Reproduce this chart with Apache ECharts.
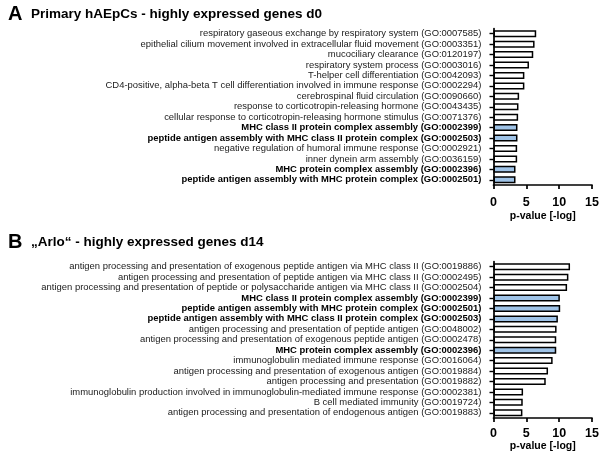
<!DOCTYPE html>
<html>
<head>
<meta charset="utf-8">
<script src="https://cdn.jsdelivr.net/npm/echarts@6/dist/echarts.min.js"></script>
<style>html,body{margin:0;padding:0;background:#fff}#c{width:602px;height:453px}</style>
</head>
<body>
<div id="c"></div>
<script>
var catsA = [
  "respiratory gaseous exchange by respiratory system (GO:0007585)",
  "epithelial cilium movement involved in extracellular fluid movement (GO:0003351)",
  "mucociliary clearance (GO:0120197)",
  "respiratory system process (GO:0003016)",
  "T-helper cell differentiation (GO:0042093)",
  "CD4-positive, alpha-beta T cell differentiation involved in immune response (GO:0002294)",
  "cerebrospinal fluid circulation (GO:0090660)",
  "response to corticotropin-releasing hormone (GO:0043435)",
  "cellular response to corticotropin-releasing hormone stimulus (GO:0071376)",
  "MHC class II protein complex assembly (GO:0002399)",
  "peptide antigen assembly with MHC class II protein complex (GO:0002503)",
  "negative regulation of humoral immune response (GO:0002921)",
  "inner dynein arm assembly (GO:0036159)",
  "MHC protein complex assembly (GO:0002396)",
  "peptide antigen assembly with MHC protein complex (GO:0002501)"
];
var valuesA = [6.5, 6.25, 6.05, 5.4, 4.7, 4.7, 3.9, 3.8, 3.75, 3.65, 3.65, 3.6, 3.6, 3.35, 3.35];
var highlightA = [0,0,0,0,0,0,0,0,0,1,1,0,0,1,1];

var catsB = [
  "antigen processing and presentation of exogenous peptide antigen via MHC class II (GO:0019886)",
  "antigen processing and presentation of peptide antigen via MHC class II (GO:0002495)",
  "antigen processing and presentation of peptide or polysaccharide antigen via MHC class II (GO:0002504)",
  "MHC class II protein complex assembly (GO:0002399)",
  "peptide antigen assembly with MHC protein complex (GO:0002501)",
  "peptide antigen assembly with MHC class II protein complex (GO:0002503)",
  "antigen processing and presentation of peptide antigen (GO:0048002)",
  "antigen processing and presentation of exogenous peptide antigen (GO:0002478)",
  "MHC protein complex assembly (GO:0002396)",
  "immunoglobulin mediated immune response (GO:0016064)",
  "antigen processing and presentation of exogenous antigen (GO:0019884)",
  "antigen processing and presentation (GO:0019882)",
  "immunoglobulin production involved in immunoglobulin-mediated immune response (GO:0002381)",
  "B cell mediated immunity (GO:0019724)",
  "antigen processing and presentation of endogenous antigen (GO:0019883)"
];
var valuesB = [11.65, 11.4, 11.2, 10.1, 10.15, 9.8, 9.6, 9.55, 9.55, 9.0, 8.3, 7.95, 4.5, 4.45, 4.4];
var highlightB = [0,0,0,1,1,1,0,0,1,0,0,0,0,0,0];

var xTicks = [0, 5, 10, 15];
var titleA = "Primary hAEpCs - highly expressed genes d0";
var titleB = "\u201EArlo\u201C - highly expressed genes d14";
var xName = "p-value [-log]";

var FONT = "Liberation Sans, Arial, Helvetica, sans-serif";
var BLUE = "#9fc3e7";

function catData(cats, hl) {
  return cats.map(function (c, i) {
    return hl[i] ? { value: c, textStyle: { fontWeight: "bold", color: "#000" } } : c;
  });
}
function barData(vals, hl) {
  return vals.map(function (v, i) {
    return { value: v, itemStyle: { color: hl[i] ? BLUE : "#fff" } };
  });
}
function xAxisCfg(gi, margin, gap) {
  return {
    gridIndex: gi, type: "value", min: xTicks[0], max: xTicks[xTicks.length - 1], interval: 5,
    axisLine: { show: true, lineStyle: { color: "#000", width: 1.7 } },
    axisTick: { show: true, length: 4, lineStyle: { color: "#000", width: 1.7 } },
    axisLabel: { color: "#000", fontFamily: FONT, fontWeight: "bold", fontSize: 12.5, margin: margin },
    splitLine: { show: false },
    name: xName, nameLocation: "middle", nameGap: gap,
    nameTextStyle: { color: "#000", fontFamily: FONT, fontWeight: "bold", fontSize: 10.5 }
  };
}
function yAxisCfg(gi, cats, hl) {
  return {
    gridIndex: gi, type: "category", inverse: true, data: catData(cats, hl),
    axisLine: { show: true, lineStyle: { color: "#000", width: 1.7 } },
    axisTick: { show: true, alignWithLabel: true, length: 4, lineStyle: { color: "#000", width: 1.4 } },
    axisLabel: { color: "#1a1a1a", fontFamily: FONT, fontSize: 9.45, margin: 12, interval: 0 }
  };
}
function seriesCfg(gi, vals, hl) {
  return {
    type: "bar", xAxisIndex: gi, yAxisIndex: gi, data: barData(vals, hl),
    barWidth: 7, itemStyle: { borderColor: "#000", borderWidth: 1.5 },
    animation: false, silent: true
  };
}

var chart = echarts.init(document.getElementById("c"), null, { renderer: "canvas" });
chart.setOption({
  backgroundColor: "#fff",
  animation: false,
  title: [
    { text: "{l|A}{t|" + titleA + "}", left: 3, top: -1,
      textStyle: { rich: {
        l: { fontFamily: FONT, fontWeight: "bold", fontSize: 20, color: "#000", width: 23 },
        t: { fontFamily: FONT, fontWeight: "bold", fontSize: 13.5, color: "#000" } } } },
    { text: "{l|B}{t|" + titleB + "}", left: 3, top: 227,
      textStyle: { rich: {
        l: { fontFamily: FONT, fontWeight: "bold", fontSize: 20, color: "#000", width: 23 },
        t: { fontFamily: FONT, fontWeight: "bold", fontSize: 13.5, color: "#000" } } } }
  ],
  grid: [
    { left: 493.5, right: 7.5, top: 28.5, height: 156.5 },
    { left: 493.5, right: 7.5, top: 261.5, height: 158.5 }
  ],
  xAxis: [xAxisCfg(0, 11, 26), xAxisCfg(1, 9, 23)],
  yAxis: [yAxisCfg(0, catsA, highlightA), yAxisCfg(1, catsB, highlightB)],
  series: [seriesCfg(0, valuesA, highlightA), seriesCfg(1, valuesB, highlightB)]
});
</script>
</body>
</html>
